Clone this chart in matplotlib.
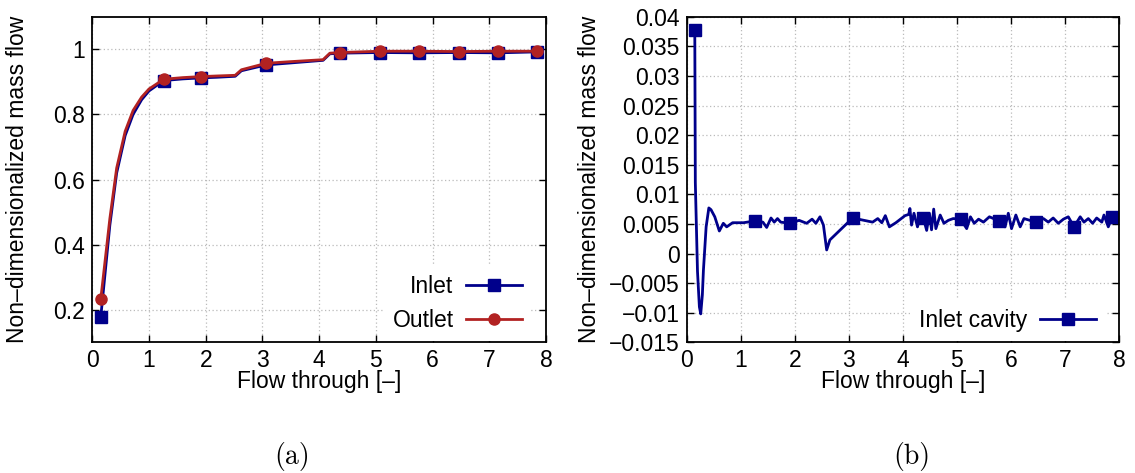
import numpy as np
import matplotlib
matplotlib.use("Agg")
import matplotlib.pyplot as plt
from matplotlib.ticker import FuncFormatter, MultipleLocator

plt.rcParams["font.family"] = ["Liberation Sans", "DejaVu Sans"]
plt.rcParams["font.size"] = 16.5

# panel (a): inlet / outlet mass flow
flow_a = [0.15, 0.31, 0.43, 0.58, 0.72, 0.87, 1.0, 1.26, 1.6, 1.91, 2.2, 2.52, 2.63,
          3.07, 3.5, 4.07, 4.19, 4.37, 5.07, 5.77, 6.46, 7.16, 7.85]
inlet = [0.178, 0.46, 0.62, 0.735, 0.80, 0.845, 0.872, 0.904, 0.909, 0.912, 0.914, 0.917, 0.934,
         0.952, 0.958, 0.966, 0.986, 0.988, 0.990, 0.989, 0.990, 0.989, 0.992]
outlet = [0.233, 0.48, 0.635, 0.748, 0.812, 0.853, 0.878, 0.908, 0.913, 0.916, 0.918, 0.920, 0.937,
          0.957, 0.962, 0.968, 0.988, 0.990, 0.994, 0.994, 0.993, 0.994, 0.994]
marks_a = [0.15, 1.26, 1.91, 3.07, 4.37, 5.07, 5.77, 6.46, 7.16, 7.85]

# panel (b): inlet cavity mass flow
flow_b = [0.15, 0.16, 0.2, 0.235, 0.26, 0.29, 0.31, 0.36, 0.41, 0.45, 0.52, 0.604, 0.678, 0.74,
          0.85, 1.05, 1.264, 1.41, 1.48, 1.56, 1.62, 1.68, 1.74, 1.911, 2.08, 2.22, 2.32, 2.39,
          2.466, 2.53, 2.59, 2.65, 3.07, 3.44, 3.535, 3.61, 3.675, 3.75, 3.87, 4.04, 4.107, 4.13,
          4.16, 4.205, 4.27, 4.33, 4.378, 4.44, 4.49, 4.53, 4.57, 4.61, 4.69, 4.76, 4.84, 4.93,
          5.07, 5.18, 5.25, 5.32, 5.40, 5.49, 5.60, 5.78, 5.89, 5.95, 6.01, 6.09, 6.17, 6.24,
          6.46, 6.60, 6.69, 6.78, 6.875, 6.97, 7.06, 7.166, 7.28, 7.35, 7.43, 7.51, 7.585, 7.68,
          7.72, 7.80, 7.875]
cavity = [0.0378, 0.012, -0.003, -0.009, -0.0102, -0.007, -0.0028, 0.0045, 0.0077, 0.0074,
          0.0062, 0.0038, 0.0051, 0.0045, 0.0052, 0.0052, 0.0055, 0.0053, 0.0044, 0.0060, 0.0053,
          0.0059, 0.0053, 0.0051, 0.0056, 0.0051, 0.0058, 0.0051, 0.0062, 0.0048, 0.0006, 0.0023,
          0.0060, 0.0053, 0.0059, 0.0052, 0.0064, 0.0045, 0.0052, 0.0064, 0.0066, 0.0076, 0.0048,
          0.0068, 0.0045, 0.0066, 0.0060, 0.0039, 0.0068, 0.0040, 0.0075, 0.0042, 0.0065, 0.0051,
          0.0056, 0.0059, 0.0058, 0.0042, 0.0062, 0.0051, 0.0058, 0.0053, 0.0062, 0.0055, 0.0045,
          0.0068, 0.0042, 0.0065, 0.0045, 0.0059, 0.0053, 0.0059, 0.0053, 0.0060, 0.0051, 0.0058,
          0.0062, 0.0045, 0.0062, 0.0053, 0.0059, 0.0051, 0.0060, 0.0053, 0.0065, 0.0045, 0.0062]
marks_b = [0.15, 1.264, 1.911, 3.07, 4.378, 5.07, 5.78, 6.46, 7.166, 7.875]

blue = "#00008b"
red = "#b22222"


def mark_idx(x, marks):
    x = np.asarray(x)
    return [int(np.argmin(np.abs(x - m))) for m in marks]


def style(ax):
    ax.set_axisbelow(True)
    ax.grid(True, color="#bbbbbb", linestyle=(0, (1, 2)), linewidth=0.9)
    ax.tick_params(direction="in", top=True, right=True, length=5, width=1.0, pad=5)
    for s in ax.spines.values():
        s.set_linewidth(1.3)
    ax.xaxis.set_major_locator(MultipleLocator(1))
    ax.set_xlim(0, 8)
    ax.yaxis.set_major_formatter(FuncFormatter(lambda v, p: ("%g" % round(v, 6)).replace("-", "\u2212")))
    ax.set_xlabel("Flow through [\u2013]")
    ax.xaxis.set_label_coords(0.5, -0.085)
    ax.xaxis.label.set_va("top")


def legend(ax):
    ax.legend(loc="lower right", bbox_to_anchor=(0.968, 0.004), markerfirst=False,
              handlelength=2.45, handletextpad=0.55, labelspacing=0.47, borderaxespad=0,
              frameon=True, fancybox=False, edgecolor="none", facecolor="white", framealpha=1)


fig = plt.figure(figsize=(11.35, 4.73), dpi=100)

ax1 = fig.add_axes([0.0813, 0.2763, 0.3997, 0.6884])
style(ax1)
ax1.plot(flow_a, inlet, color=blue, lw=2.0, marker="s", ms=8.5,
         markevery=mark_idx(flow_a, marks_a), label="Inlet")
ax1.plot(flow_a, outlet, color=red, lw=2.0, marker="o", ms=8,
         markevery=mark_idx(flow_a, marks_a), label="Outlet")
ax1.set_ylim(0.1, 1.1)
ax1.set_yticks([0.2, 0.4, 0.6, 0.8, 1.0])
ax1.set_ylabel("Non\u2013dimensionalized mass flow")
ax1.yaxis.set_label_coords(-0.14, 0.5)
legend(ax1)

ax2 = fig.add_axes([0.605, 0.2763, 0.381, 0.6884])
style(ax2)
ax2.plot(flow_b, cavity, color=blue, lw=2.0, marker="s", ms=8.5,
         markevery=mark_idx(flow_b, marks_b), label="Inlet cavity")
ax2.set_ylim(-0.015, 0.04)
ax2.yaxis.set_major_locator(MultipleLocator(0.005))
ax2.set_ylabel("Non\u2013dimensionalized mass flow")
ax2.yaxis.set_label_coords(-0.198, 0.5)
legend(ax2)

fig.text(292 / 1135, 1 - 456 / 473, "(a)", fontfamily="cmr10", fontsize=20, ha="center", va="center")
fig.text(912 / 1135, 1 - 456 / 473, "(b)", fontfamily="cmr10", fontsize=20, ha="center", va="center")

fig.savefig("out.png", dpi=100)
